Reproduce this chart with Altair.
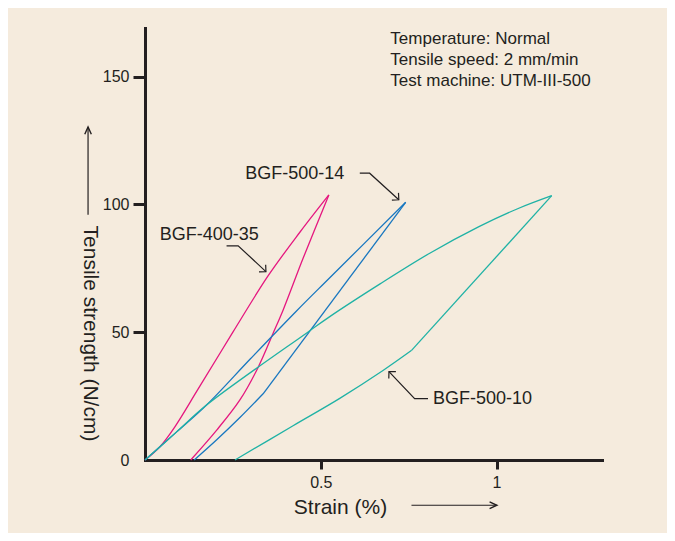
import altair as alt
import pandas as pd

# ---------------- data (strain %, tensile strength N/cm) ----------------
series_names = ["BGF-400-35", "BGF-500-14", "BGF-500-10"]
series_colors = ["#e5177f", "#1877c0", "#1fb2a5"]

# loading branch followed by unloading branch
pink_strain = [0, 0.043, 0.085, 0.15, 0.25, 0.35, 0.44, 0.523,
               0.45, 0.393, 0.3645, 0.322, 0.27, 0.204, 0.13]
pink_strength = [0, 5.3, 13, 27.5, 50, 72, 89, 103.7,
                 79, 58.7, 49.6, 36.3, 23.5, 11.7, 0]
pink_breaks = [7]          # index of the peak (sharp corner)

blue_strain = [0, 0.09, 0.175, 0.30, 0.431, 0.5256, 0.7415,
               0.336, 0.27, 0.204, 0.14]
blue_strength = [0, 11.0, 21.5, 39.6, 58.3, 71.3, 100.8,
                 25.9, 16.6, 7.9, 0]
blue_breaks = [6, 7]       # peak, knee of unloading branch

teal_strain = [0, 0.09, 0.175, 0.464, 0.5256, 0.6676, 0.81, 0.95, 1.06, 1.157,
               0.7576, 0.677, 0.554, 0.42, 0.256]
teal_strength = [0, 11.0, 21.5, 50.1, 56.1, 68.8, 80.9, 91.3, 98.3, 103.4,
                 42.8, 35.0, 24.1, 13.3, 0]
teal_breaks = [9, 10]      # peak, knee of unloading branch

y_ticks = [0, 50, 100, 150]
x_ticks = [0.5, 1]

info_lines = ["Temperature: Normal", "Tensile speed: 2 mm/min", "Test machine: UTM-III-500"]

# ---------------- annotation geometry (data coordinates) ----------------
label_text = ["BGF-500-14", "BGF-400-35", "BGF-500-10"]
label_x = [0.426, 0.183, 0.960]
label_y = [111.9, 88.1, 24.0]

# leader / axis-title arrow polylines: (segment id, strain, strength)
leader_seg = [0, 0, 0, 1, 1, 1, 2, 2, 2, 3, 3, 4, 4]
leader_x = [0.611, 0.639, 0.722, 0.232, 0.265, 0.344, 0.805, 0.767, 0.694,
            -0.162, -0.162, 0.758, 1.001]
leader_y = [112.2, 112.2, 101.8, 83.8, 83.8, 73.7, 24.0, 24.0, 34.6,
            95.9, 130.3, -17.7, -17.7]

head_x = [0.722, 0.344, 0.694]
head_y = [101.8, 73.7, 34.6]
head_angle = [132.3, 132.9, 316.4]

axis_head_x = [-0.162, 1.001]
axis_head_y = [130.3, -17.7]
axis_head_angle = [0, 90]

info_x = 0.698
info_y = [164.8, 156.5, 148.3]

# ---------------- build tables ----------------
rows = []
for name, xs, ys, brk in zip(series_names,
                             [pink_strain, blue_strain, teal_strain],
                             [pink_strength, blue_strength, teal_strength],
                             [pink_breaks, blue_breaks, teal_breaks]):
    bounds = [0] + brk + [len(xs) - 1]
    for s in range(len(bounds) - 1):
        for i in range(bounds[s], bounds[s + 1] + 1):
            rows.append({"series": name, "branch": f"{name}-{s}",
                         "strain": xs[i], "strength": ys[i], "order": i})
curves_df = pd.DataFrame(rows)

leader_df = pd.DataFrame({"seg": leader_seg, "strain": leader_x, "strength": leader_y,
                          "order": list(range(len(leader_x)))})
head_df = pd.DataFrame({"strain": head_x, "strength": head_y, "angle": head_angle})
axis_head_df = pd.DataFrame({"strain": axis_head_x, "strength": axis_head_y, "angle": axis_head_angle})
label_df = pd.DataFrame({"strain": label_x, "strength": label_y, "txt": label_text})
info_df = pd.DataFrame({"strain": [info_x] * 3, "strength": info_y, "txt": info_lines})

INK = "#231f20"
FONT = "Liberation Sans"
BG = "#f5ebdd"

x_scale = alt.Scale(domain=[0, 1.3], nice=False, zero=False)
y_scale = alt.Scale(domain=[0, 169], nice=False, zero=False)

x_axis = alt.Axis(
    values=x_ticks, labelExpr="'' + datum.value", grid=False,
    domainColor=INK, domainWidth=3, domainCap="square",
    tickColor=INK, tickWidth=3, tickSize=9,
    labelFont=FONT, labelFontSize=16, labelColor=INK, labelPadding=5,
    title="Strain (%)", titleFont=FONT, titleFontSize=21, titleFontWeight="normal",
    titleColor=INK, titleX=195, titleY=47, titleAlign="center", titleBaseline="middle",
)
y_axis = alt.Axis(
    values=y_ticks, grid=False,
    domainColor=INK, domainWidth=3, domainCap="square",
    tickColor=INK, tickWidth=3, tickSize=12,
    tickOpacity={"condition": {"test": "datum.value == 0", "value": 0}, "value": 1},
    labelFont=FONT, labelFontSize=16, labelColor=INK, labelPadding=4,
    title="Tensile strength (N/cm)", titleFont=FONT, titleFontSize=21,
    titleFontWeight="normal", titleColor=INK, titleAngle=90,
    titleX=-56, titleY=305, titleAlign="center", titleBaseline="middle",
)

X = alt.X("strain:Q", scale=x_scale, axis=x_axis)
Y = alt.Y("strength:Q", scale=y_scale, axis=y_axis)
Xp = alt.X("strain:Q", scale=x_scale)
Yp = alt.Y("strength:Q", scale=y_scale)

curves = alt.Chart(curves_df).mark_line(strokeWidth=1.3, interpolate="catmull-rom").encode(
    x=X, y=Y,
    color=alt.Color("series:N", scale=alt.Scale(domain=series_names, range=series_colors), legend=None),
    detail="branch:N",
    order="order:Q",
)

leaders = alt.Chart(leader_df).mark_line(strokeWidth=1.2, color=INK).encode(
    x=Xp, y=Yp, detail="seg:N", order="order:Q"
)

heads = alt.Chart(head_df).mark_point(
    shape="M -0.7 0.7 L 0 0 L 0.7 0.7", filled=False, size=196,
    stroke=INK, strokeWidth=1.2, opacity=1,
).encode(x=Xp, y=Yp, angle=alt.Angle("angle:Q", scale=None))

axis_heads = alt.Chart(axis_head_df).mark_point(
    shape="M -0.45 1 L 0 0 L 0.45 1", filled=False, size=213,
    stroke=INK, strokeWidth=1.4, opacity=1,
).encode(x=Xp, y=Yp, angle=alt.Angle("angle:Q", scale=None))

labels = alt.Chart(label_df).mark_text(
    font=FONT, fontSize=18, color=INK, align="center", baseline="middle"
).encode(x=Xp, y=Yp, text="txt:N")

info = alt.Chart(info_df).mark_text(
    font=FONT, fontSize=17, color=INK, align="left", baseline="middle"
).encode(x=Xp, y=Yp, text="txt:N")

chart = alt.layer(curves, leaders, heads, axis_heads, labels, info).properties(
    width=457, height=432,
    autosize=alt.AutoSizeParams(type="none"),
    padding={"left": 137, "top": 20, "right": 65, "bottom": 73},
    background=BG,
).configure_view(stroke="transparent")

chart.save("out.html", embed_options={"renderer": "svg", "actions": False})
